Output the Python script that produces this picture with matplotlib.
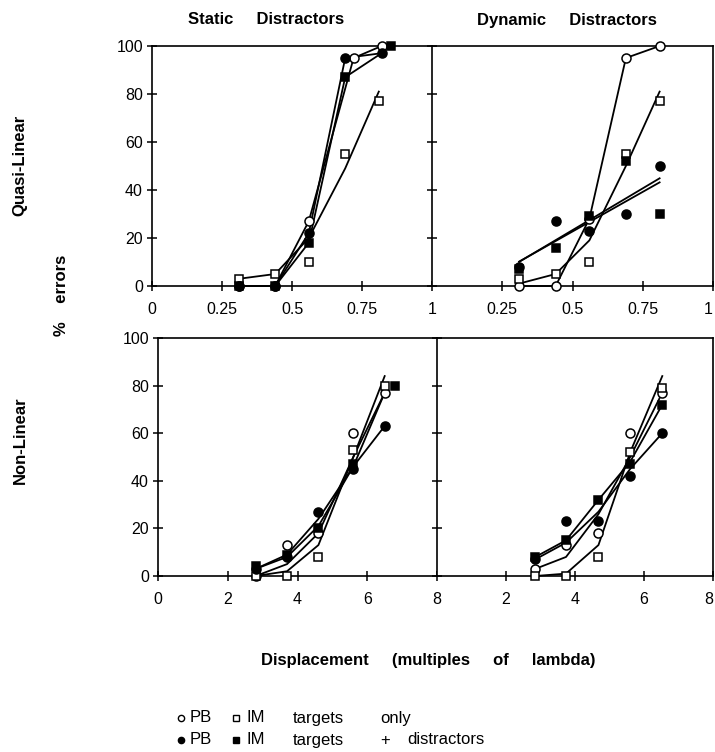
import numpy as np
import matplotlib
matplotlib.use("Agg")
import matplotlib.pyplot as plt

plt.rcParams['font.family'] = ['Liberation Sans', 'DejaVu Sans']

# displacement positions
ql_x = [0.31, 0.44, 0.56, 0.69, 0.81]
nl_x_static = [2.8, 3.7, 4.6, 5.6, 6.5]
nl_x_dynamic = [2.85, 3.74, 4.68, 5.6, 6.53]

# quasi-linear, static distractors
qs_pb_only_x = [0.31, 0.44, 0.56, 0.72, 0.82]
qs_pb_only = [0, 0, 27, 95, 100]
qs_im_only = [3, 5, 10, 55, 77]
qs_im_only_line = [3, 5, 20, 49, 81]
qs_pb_dist_x = [0.31, 0.44, 0.56, 0.69, 0.82]
qs_pb_dist = [0, 0, 22, 95, 97]
qs_im_dist_x = [0.31, 0.44, 0.56, 0.69, 0.855]
qs_im_dist = [0, 0, 18, 87, 100]

# quasi-linear, dynamic distractors
qd_pb_only = [0, 0, 28, 95, 100]
qd_im_only = [3, 5, 10, 55, 77]
qd_im_only_line = [1, 5, 19, 50, 81]
qd_pb_dist = [8, 27, 23, 30, 50]
qd_im_dist = [7, 16, 29, 52, 30]

# non-linear, static distractors
ns_pb_only = [0, 13, 18, 60, 77]
ns_pb_only_line = [0, 5, 18, 50, 77]
ns_im_only = [0, 0, 8, 53, 80]
ns_im_only_line = [0, 2, 13, 50, 84]
ns_pb_dist = [3, 8, 27, 45, 63]
ns_pb_dist_line = [3, 9, 24, 46, 63]
ns_im_dist_x = [2.8, 3.7, 4.6, 5.6, 6.8]
ns_im_dist = [4, 9, 20, 47, 80]
ns_im_dist_line = [3, 8, 21, 46, 77]

# non-linear, dynamic distractors
nd_pb_only = [3, 13, 18, 60, 77]
nd_pb_only_line = [3, 8, 26, 50, 77]
nd_im_only = [0, 0, 8, 52, 79]
nd_im_only_line = [0, 1, 13, 52, 84]
nd_pb_dist = [7, 23, 23, 42, 60]
nd_pb_dist_line = [7, 14, 27, 45, 60]
nd_im_dist = [8, 15, 32, 47, 72]
nd_im_dist_line = [8, 15, 32, 48, 72]

W, H = 715, 752
fig = plt.figure(figsize=(W / 100, H / 100), dpi=100)


def px_axes(left, top, right, bottom):
    return fig.add_axes([left / W, 1 - bottom / H, (right - left) / W, (bottom - top) / H])


def series(ax, x, y, marker, filled, line_x=None, line_y=None):
    if line_y is not None:
        ax.plot(line_x, line_y, color='black', lw=1.3, clip_on=False, zorder=2)
    ax.plot(x, y, linestyle='none', marker=marker, ms=6.5 if marker == 'o' else 6,
            mfc='black' if filled else 'white', mec='black', mew=1.1,
            clip_on=False, zorder=3)


def setup(ax, xmax, xticks, xlabels, show_y):
    ax.set_xlim(0, xmax)
    ax.set_ylim(0, 100)
    ax.set_xticks(xticks)
    ax.set_xticklabels(xlabels)
    ax.set_yticks(range(0, 101, 20))
    if not show_y:
        ax.set_yticklabels([])
        # the last label sits on the page edge
        ax.get_xticklabels()[-1].set_horizontalalignment('right')
    ax.tick_params(direction='inout', length=7, width=1.1, labelsize=11.5)
    ax.tick_params(axis='x', pad=8)
    ax.tick_params(axis='y', pad=3)
    for s in ax.spines.values():
        s.set_linewidth(1.2)
    if show_y:
        ax.spines['right'].set_visible(False)


ax1 = px_axes(152, 46, 432, 286)
ax2 = px_axes(432, 46, 713, 286)
ax3 = px_axes(158, 338, 437, 576)
ax4 = px_axes(437, 338, 713, 576)

# static, quasi-linear
series(ax1, ql_x, qs_im_only, 's', False, ql_x, qs_im_only_line)
series(ax1, qs_pb_only_x, qs_pb_only, 'o', False, qs_pb_only_x, qs_pb_only)
series(ax1, qs_pb_dist_x, qs_pb_dist, 'o', True, qs_pb_dist_x, qs_pb_dist)
series(ax1, qs_im_dist_x, qs_im_dist, 's', True, qs_im_dist_x[:4], qs_im_dist[:4])
ax1.plot([qs_im_dist_x[3], qs_pb_dist_x[4]], [qs_im_dist[3], qs_pb_dist[4]], color='black', lw=1.3)

# dynamic, quasi-linear
series(ax2, ql_x, qd_pb_only, 'o', False, ql_x, qd_pb_only)
series(ax2, ql_x, qd_im_only, 's', False, ql_x, qd_im_only_line)
for vals, mk in ((qd_pb_dist, 'o'), (qd_im_dist, 's')):
    k, b = np.polyfit(ql_x, vals, 1)
    fit_x = np.array([ql_x[0], ql_x[-1]])
    series(ax2, ql_x, vals, mk, True, fit_x, k * fit_x + b)

# static, non-linear
series(ax3, nl_x_static, ns_pb_only, 'o', False, nl_x_static, ns_pb_only_line)
series(ax3, nl_x_static, ns_im_only, 's', False, nl_x_static, ns_im_only_line)
series(ax3, nl_x_static, ns_pb_dist, 'o', True, nl_x_static, ns_pb_dist_line)
series(ax3, ns_im_dist_x, ns_im_dist, 's', True, nl_x_static, ns_im_dist_line)

# dynamic, non-linear
series(ax4, nl_x_dynamic, nd_pb_only, 'o', False, nl_x_dynamic, nd_pb_only_line)
series(ax4, nl_x_dynamic, nd_im_only, 's', False, nl_x_dynamic, nd_im_only_line)
series(ax4, nl_x_dynamic, nd_pb_dist, 'o', True, nl_x_dynamic, nd_pb_dist_line)
series(ax4, nl_x_dynamic, nd_im_dist, 's', True, nl_x_dynamic, nd_im_dist_line)

setup(ax1, 1, [0, 0.25, 0.5, 0.75, 1], ['0', '0.25', '0.5', '0.75', '1'], True)
setup(ax2, 1, [0.25, 0.5, 0.75, 1], ['0.25', '0.5', '0.75', '1'], False)
setup(ax3, 8, [0, 2, 4, 6, 8], ['0', '2', '4', '6', '8'], True)
setup(ax4, 8, [2, 4, 6, 8], ['2', '4', '6', '8'], False)

# titles and labels
bold = dict(fontsize=12, fontweight='bold', va='center', ha='center')
fig.text(266 / W, 1 - 20 / H, 'Static     Distractors', **bold)
fig.text(567 / W, 1 - 20 / H, 'Dynamic     Distractors', **bold)
fig.text(20 / W, 1 - 165 / H, 'Quasi-Linear', rotation=90, **bold)
fig.text(20 / W, 1 - 440 / H, 'Non-Linear', rotation=90, **bold)
fig.text(62 / W, 1 - 295 / H, '%    errors', rotation=90, **bold)
fig.text(428 / W, 1 - 660 / H, 'Displacement     (multiples     of     lambda)', **bold)

# legend drawn in pixel space
leg = fig.add_axes([0, 0, 1, 1])
leg.set_xlim(0, W)
leg.set_ylim(H, 0)
leg.axis('off')
rows = [(718, False, ['targets', 'only'], [293, 380]),
        (740, True, ['targets', '+', 'distractors'], [293, 380, 407])]
for y, filled, words, xs in rows:
    fc = 'black' if filled else 'white'
    leg.plot([181], [y], 'o', ms=4.5, mfc=fc, mec='black', mew=1)
    leg.text(190, y, 'PB', va='center', fontsize=12)
    leg.plot([236], [y], 's', ms=4.5, mfc=fc, mec='black', mew=1)
    leg.text(246, y, 'IM', va='center', fontsize=12)
    for w, x in zip(words, xs):
        leg.text(x, y, w, va='center', fontsize=12)

fig.savefig('out.png', dpi=100)
